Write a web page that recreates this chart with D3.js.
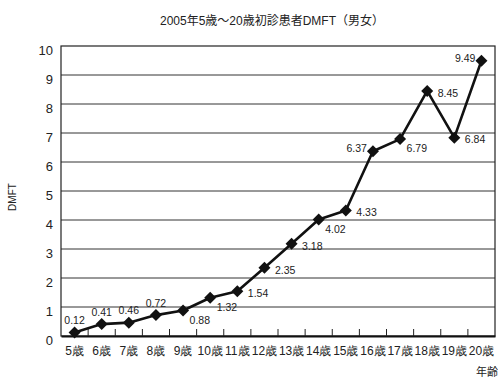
<!DOCTYPE html>
<html>
<head>
<meta charset="utf-8">
<script src="https://cdn.jsdelivr.net/npm/d3@7"></script>
<style>
  html, body { margin: 0; padding: 0; background: #fff; }
  svg { display: block; font-family: "Liberation Sans", Arial, "Noto Sans CJK JP", sans-serif; }
</style>
</head>
<body>
<svg id="chart" width="498" height="378"></svg>
<script>
// Mean DMFT of first-visit patients by age, 2005 (both sexes)
const ages = ["5歳", "6歳", "7歳", "8歳", "9歳", "10歳", "11歳", "12歳",
              "13歳", "14歳", "15歳", "16歳", "17歳", "18歳", "19歳", "20歳"];
const dmft = [0.12, 0.41, 0.46, 0.72, 0.88, 1.32, 1.54, 2.35,
              3.18, 4.02, 4.33, 6.37, 6.79, 8.45, 6.84, 9.49];
const yTicks = [0, 1, 2, 3, 4, 5, 6, 7, 8, 9, 10];
const labelSide = ["above", "above", "above", "above", "belowRight", "belowRight",
                   "right", "right", "right", "belowRight", "right", "left",
                   "belowRight", "right", "right", "left"];

const title = "2005年5歳〜20歳初診患者DMFT（男女）";
const yTitle = "DMFT";
const xTitle = "年齢";

const svg = d3.select("#chart");
const plot = { left: 61, right: 495, top: 46, bottom: 336 };

const x = d3.scaleBand().domain(ages).range([plot.left, plot.right]).padding(0);
const y = d3.scaleLinear().domain([0, 10]).range([plot.bottom, plot.top]);

// title
svg.append("text")
  .attr("x", 272).attr("y", 25)
  .attr("text-anchor", "middle")
  .attr("font-size", 12).attr("fill", "#222")
  .text(title);

// horizontal gridlines
svg.append("g")
  .selectAll("line")
  .data(yTicks.filter(d => d > 0 && d < 10))
  .join("line")
  .attr("x1", plot.left).attr("x2", plot.right)
  .attr("y1", d => y(d)).attr("y2", d => y(d))
  .attr("stroke", "#333").attr("stroke-width", 1);

// plot frame
svg.append("rect")
  .attr("x", plot.left).attr("y", plot.top)
  .attr("width", plot.right - plot.left).attr("height", plot.bottom - plot.top)
  .attr("fill", "none").attr("stroke", "#222").attr("stroke-width", 1.2);

// y axis labels
const yAxis = d3.axisLeft(y).tickValues(yTicks).tickSize(0).tickPadding(8).tickFormat(d3.format("d"));
const gy = svg.append("g").attr("transform", `translate(${plot.left},0)`).call(yAxis);
gy.select(".domain").remove();
gy.selectAll("text")
  .attr("font-size", 13).attr("fill", "#222")
  .attr("font-family", "Liberation Sans, Arial, sans-serif")
  .attr("dy", "0.62em");

// x axis: category labels and boundary ticks pointing inward
const xAxis = d3.axisBottom(x).tickSize(0).tickPadding(10);
const gx = svg.append("g").attr("transform", `translate(0,${plot.bottom})`).call(xAxis);
gx.select(".domain").attr("stroke", "#111").attr("stroke-width", 2);
gx.selectAll("text").attr("font-size", 12).attr("fill", "#222");

svg.append("g")
  .selectAll("line")
  .data(ages.slice(1))
  .join("line")
  .attr("x1", d => x(d)).attr("x2", d => x(d))
  .attr("y1", plot.bottom).attr("y2", plot.bottom - 7)
  .attr("stroke", "#222").attr("stroke-width", 1);

// axis titles
svg.append("text")
  .attr("transform", `translate(16,${(plot.top + plot.bottom) / 2 + 6}) rotate(-90)`)
  .attr("text-anchor", "middle")
  .attr("font-size", 10).attr("fill", "#222")
  .text(yTitle);

svg.append("text")
  .attr("x", 476).attr("y", 376)
  .attr("font-size", 11).attr("fill", "#222")
  .text(xTitle);

// series line
const cx = d => x(d.age) + x.bandwidth() / 2;
const points = ages.map((age, i) => ({ age, value: dmft[i], side: labelSide[i] }));

svg.append("path")
  .datum(points)
  .attr("fill", "none")
  .attr("stroke", "#111").attr("stroke-width", 2.6)
  .attr("stroke-linejoin", "round")
  .attr("d", d3.line().x(cx).y(d => y(d.value)));

// diamond markers
svg.append("g")
  .selectAll("path")
  .data(points)
  .join("path")
  .attr("transform", d => `translate(${cx(d)},${y(d.value)})`)
  .attr("d", "M0,-6L6,0L0,6L-6,0Z")
  .attr("fill", "#111");

// value labels
const place = {
  above:      { anchor: "middle", dx: 0,    dy: -12 },
  right:      { anchor: "start",  dx: 10.5, dy: 2 },
  belowRight: { anchor: "start",  dx: 6.5,  dy: 9.5 },
  left:       { anchor: "end",    dx: -6,   dy: -3 }
};
const labelSize = 10.5;
svg.append("g")
  .selectAll("text")
  .data(points)
  .join("text")
  .attr("x", d => cx(d) + place[d.side].dx)
  .attr("y", d => y(d.value) + place[d.side].dy + labelSize * 0.36)
  .attr("text-anchor", d => place[d.side].anchor)
  .attr("font-size", labelSize).attr("fill", "#222")
  .text(d => d3.format(".2f")(d.value));
</script>
</body>
</html>
